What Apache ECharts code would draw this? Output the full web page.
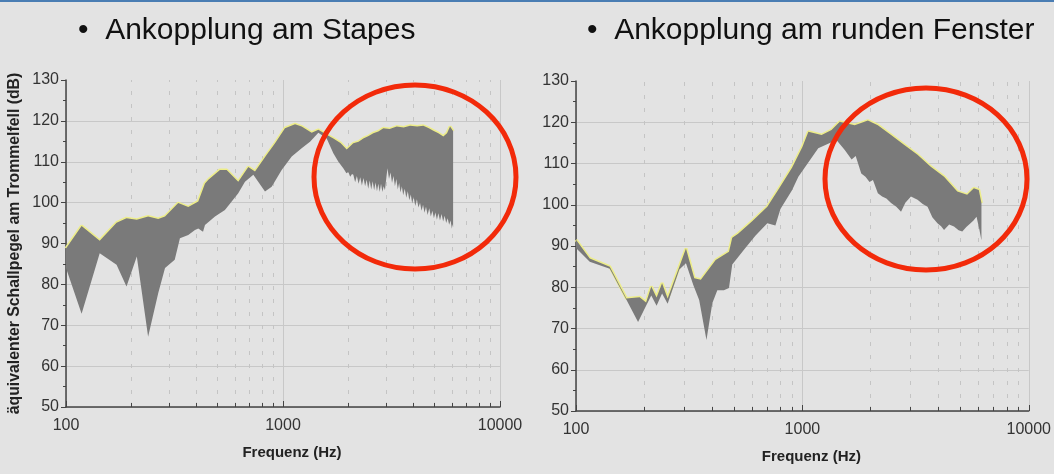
<!DOCTYPE html>
<html>
<head>
<meta charset="utf-8">
<script src="https://cdn.jsdelivr.net/npm/echarts@6/dist/echarts.min.js"></script>
<style>
  html, body { margin: 0; padding: 0; background: #e3e3e3; }
  #chart { width: 1054px; height: 474px; border-top: 2px solid #4a7db3; box-sizing: border-box; }
</style>
</head>
<body>
<div id="chart"></div>
<script>
// Ankopplung am Stapes – obere / untere Grenze (Hz, dB)
let stapesUpperF = [100, 118, 143, 171, 190, 212, 239, 266, 286, 329, 366, 407, 437, 453, 512, 550, 622, 692, 743, 841, 919, 1021, 1136, 1219, 1356, 1455, 1590, 1706, 1840, 1966, 2109, 2230, 2345, 2480, 2608, 2750, 2900, 3100, 3342, 3600, 3850, 4150, 4433, 4700, 4928, 5200, 5480, 5700, 5885, 6080];
let stapesUpperDb = [88.8, 94.3, 90.7, 95.1, 96.2, 95.8, 96.6, 96.0, 96.6, 99.9, 98.9, 100.3, 104.7, 105.6, 108.0, 108.0, 105.1, 108.7, 107.6, 111.7, 114.5, 118.2, 119.2, 118.6, 117.1, 117.8, 116.6, 115.7, 114.6, 113.0, 114.5, 114.9, 115.7, 116.3, 117.0, 117.4, 118.2, 118.0, 118.6, 118.4, 118.8, 118.6, 118.8, 118.2, 117.6, 117.0, 116.2, 117.0, 118.6, 117.5];
let stapesLowerF = [100, 118, 143, 171, 190, 212, 239, 266, 286, 317, 335, 366, 393, 407, 428, 437, 486, 540, 622, 668, 730, 826, 887, 986, 1097, 1219, 1332, 1455, 1590, 1706, 1800, 1896, 1960, 2000, 2040, 2080, 2109, 2150, 2190, 2230, 2270, 2310, 2350, 2390, 2430, 2470, 2510, 2550, 2590, 2630, 2670, 2710, 2750, 2790, 2830, 2870, 2910, 2950, 3000, 3030, 3080, 3130, 3180, 3230, 3280, 3330, 3380, 3430, 3480, 3530, 3580, 3640, 3700, 3760, 3820, 3880, 3940, 4000, 4070, 4140, 4210, 4280, 4350, 4420, 4490, 4560, 4640, 4720, 4800, 4880, 4960, 5040, 5120, 5200, 5290, 5380, 5470, 5560, 5650, 5740, 5830, 5920, 6000, 6050, 6080];
let stapesLowerDb = [84.0, 72.8, 87.6, 84.8, 79.5, 86.8, 67.2, 77.8, 84.0, 86.0, 91.3, 92.1, 93.3, 93.7, 92.9, 94.5, 96.6, 98.2, 102.3, 105.1, 106.8, 102.7, 103.9, 108.0, 111.3, 113.3, 114.9, 117.1, 115.7, 112.1, 110.0, 108.4, 107.2, 107.5, 106.3, 107.0, 106.8, 105.0, 106.5, 104.6, 106.2, 104.2, 106.0, 104.0, 105.6, 103.4, 105.4, 103.2, 105.2, 103.0, 104.9, 102.8, 104.6, 102.6, 104.6, 102.6, 104.0, 103.0, 106.5, 108.4, 105.8, 107.4, 104.8, 106.5, 104.0, 105.8, 103.2, 104.8, 102.5, 104.0, 101.8, 103.4, 101.2, 102.8, 100.6, 102.0, 99.8, 101.4, 99.2, 100.8, 98.8, 100.0, 98.0, 99.5, 97.5, 99.0, 97.0, 98.6, 96.6, 98.0, 96.2, 97.6, 95.8, 97.4, 95.6, 97.2, 95.4, 96.8, 95.0, 96.2, 94.6, 95.6, 93.6, 94.8, 94.0];

// Ankopplung am runden Fenster
let fensterUpperF = [100, 115, 141, 167, 191, 204, 215, 227, 240, 254, 286, 306, 333, 356, 414, 474, 490, 520, 600, 700, 790, 900, 1000, 1063, 1216, 1345, 1463, 1703, 1947, 2155, 2465, 2820, 3226, 3690, 4225, 4833, 5346, 5720, 6015, 6180];
let fensterUpperDb = [91.5, 87.0, 85.0, 77.3, 77.6, 76.3, 80.2, 77.5, 81.0, 77.3, 85.0, 89.4, 82.2, 81.8, 86.6, 88.6, 92.0, 93.0, 96.0, 99.5, 104.0, 109.0, 114.0, 117.7, 116.9, 118.1, 120.1, 119.3, 120.4, 119.3, 116.9, 114.5, 112.1, 109.2, 106.8, 103.2, 102.4, 104.0, 103.6, 100.4];
let fensterLowerF = [100, 115, 141, 167, 188, 204, 215, 227, 240, 254, 286, 306, 330, 350, 377, 400, 421, 450, 474, 490, 560, 620, 700, 760, 800, 900, 960, 1175, 1414, 1539, 1650, 1720, 1820, 1900, 1980, 2050, 2155, 2250, 2350, 2465, 2600, 2728, 2850, 3017, 3226, 3400, 3572, 3750, 3950, 4100, 4225, 4450, 4675, 4900, 5086, 5300, 5530, 5700, 5880, 6050, 6180];
let fensterLowerDb = [89.5, 86.2, 84.5, 77.0, 71.6, 75.5, 78.0, 75.5, 78.5, 76.0, 84.3, 85.8, 80.5, 76.9, 67.2, 76.1, 79.3, 79.3, 79.8, 85.5, 89.5, 92.5, 95.5, 95.0, 99.0, 103.5, 106.8, 113.7, 115.7, 113.3, 111.0, 111.8, 107.6, 106.8, 105.5, 106.0, 102.8, 102.0, 101.5, 100.4, 99.5, 98.3, 100.5, 102.0, 101.2, 100.2, 99.5, 97.0, 95.5, 94.8, 93.9, 95.2, 94.7, 93.8, 93.5, 94.6, 95.5, 96.2, 97.1, 94.0, 91.4];

let minorFreqs = [200, 300, 400, 500, 600, 700, 800, 900, 2000, 3000, 4000, 5000, 6000, 7000, 8000, 9000];
let titles = ["•  Ankopplung am Stapes", "•  Ankopplung am runden Fenster"];

let labelFont = "'Liberation Sans Narrow', 'Arial Narrow', 'Liberation Sans', sans-serif";

function zip(xs, ys) {
  return xs.map((x, i) => [x, ys[i]]);
}

// graues Band zwischen oberer und unterer Kurve
function band(upF, upDb, loF, loDb, idx) {
  return {
    type: "custom",
    xAxisIndex: idx,
    yAxisIndex: idx,
    silent: true,
    z: 3,
    data: [[upF[0], upDb[0]]],
    renderItem: function (params, api) {
      let pts = [];
      for (let i = 0; i < upF.length; i++) pts.push(api.coord([upF[i], upDb[i]]));
      for (let i = loF.length - 1; i >= 0; i--) pts.push(api.coord([loF[i], loDb[i]]));
      return { type: "polygon", shape: { points: pts }, style: { fill: "#7a7a7a" } };
    },
  };
}

function edge(upF, upDb, idx) {
  return {
    type: "line",
    xAxisIndex: idx,
    yAxisIndex: idx,
    silent: true,
    z: 2,
    showSymbol: false,
    data: zip(upF, upDb),
    lineStyle: { color: "#eded8a", width: 3 },
    markLine: {
      silent: true,
      z: 1,
      symbol: ["none", "none"],
      label: { show: false },
      lineStyle: { color: "#c4c4c4", width: 1, type: [4, 9] },
      data: minorFreqs.map((f) => ({ xAxis: f })),
    },
  };
}

// kleine Striche auf der x-Achse
function minorTicks(idx) {
  return {
    type: "line",
    xAxisIndex: idx,
    yAxisIndex: idx,
    silent: true,
    data: [],
    markLine: {
      silent: true,
      z: 6,
      symbol: ["none", "none"],
      label: { show: false },
      lineStyle: { color: "#444", width: 1, type: "solid" },
      data: minorFreqs.map((f) => [{ coord: [f, 50] }, { coord: [f, 51] }]),
    },
  };
}

function xAxis(idx) {
  return {
    type: "log",
    logBase: 10,
    gridIndex: idx,
    min: 100,
    max: 10000,
    name: "Frequenz (Hz)",
    nameLocation: "middle",
    nameGap: 38,
    nameTextStyle: { fontFamily: "'Liberation Sans', Arial, sans-serif", fontWeight: "bold", fontSize: 15, color: "#222", padding: [0, 0, 0, 18] },
    axisLine: { lineStyle: { color: "#444", width: 1.5 } },
    axisTick: { inside: true, length: 6, lineStyle: { color: "#444" } },
    axisLabel: { color: "#333", fontSize: 16, fontFamily: labelFont, margin: 11, formatter: (v) => String(Math.round(v)) },
    splitLine: { show: true, lineStyle: { color: "#c8c8c8", width: 1 } },
  };
}

function yAxis(idx, name) {
  let gridColors = ["#c8c8c8", "#c8c8c8", "#c8c8c8", "#c8c8c8", "#c8c8c8", "#c8c8c8", "#c8c8c8", "#c8c8c8", "rgba(0,0,0,0)"];
  return {
    type: "value",
    gridIndex: idx,
    min: 50,
    max: 130,
    interval: 10,
    name: name,
    nameLocation: "middle",
    nameGap: 43,
    nameTextStyle: { fontFamily: "'Liberation Sans', Arial, sans-serif", fontWeight: "bold", fontSize: 15.8, color: "#222" },
    axisLine: { show: true, lineStyle: { color: "#444", width: 1.5 } },
    axisTick: { show: true, length: 5, lineStyle: { color: "#444" } },
    minorTick: { show: true, splitNumber: 2, length: 3, lineStyle: { color: "#444" } },
    axisLabel: { color: "#333", fontSize: 16, fontFamily: labelFont, margin: 7 },
    splitLine: { show: true, lineStyle: { color: gridColors, width: 1 } },
  };
}

let myChart = echarts.init(document.getElementById("chart"), null, { renderer: "canvas" });
myChart.setOption({
  backgroundColor: "#e3e3e3",
  animation: false,
  title: [
    { text: titles[0], left: 73, top: 9, textStyle: { fontFamily: "'Liberation Sans', Arial, sans-serif", fontSize: 30, fontWeight: "normal", color: "#111" } },
    { text: titles[1], left: 582, top: 9, textStyle: { fontFamily: "'Liberation Sans', Arial, sans-serif", fontSize: 30, fontWeight: "normal", color: "#111" } },
  ],
  grid: [
    { left: 66, top: 78, width: 434, height: 327 },
    { left: 576, top: 79, width: 455, height: 330 },
  ],
  xAxis: [xAxis(0), xAxis(1)],
  yAxis: [yAxis(0, "äquivalenter Schallpegel am Trommelfell (dB)"), yAxis(1, "")],
  series: [
    edge(stapesUpperF, stapesUpperDb, 0),
    band(stapesUpperF, stapesUpperDb, stapesLowerF, stapesLowerDb, 0),
    minorTicks(0),
    edge(fensterUpperF, fensterUpperDb, 1),
    band(fensterUpperF, fensterUpperDb, fensterLowerF, fensterLowerDb, 1),
    minorTicks(1),
  ],
  graphic: [
    { type: "ellipse", z: 100, silent: true, shape: { cx: 415, cy: 175, rx: 101, ry: 92 }, style: { fill: "none", stroke: "#f22a0a", lineWidth: 5 } },
    { type: "ellipse", z: 100, silent: true, shape: { cx: 926, cy: 177, rx: 101, ry: 91 }, style: { fill: "none", stroke: "#f22a0a", lineWidth: 5 } },
  ],
});
</script>
</body>
</html>
